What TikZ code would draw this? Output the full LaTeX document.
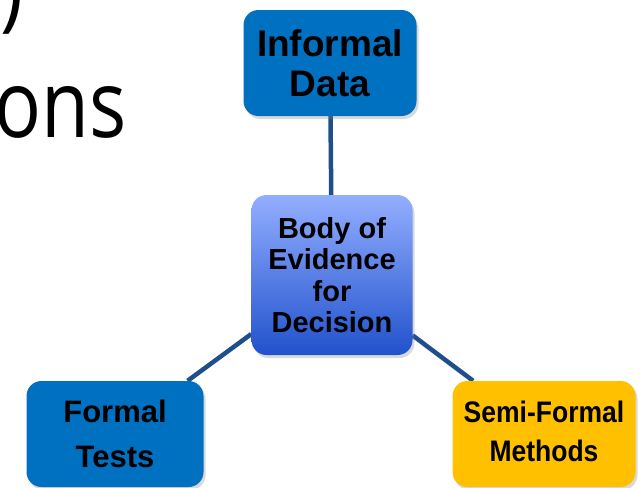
\documentclass[tikz,border=0pt]{standalone}
\usepackage{fontspec}
\setmainfont{Liberation Sans}
\newfontfamily\slidefont{Open Sans}
\usetikzlibrary{shadows,backgrounds}
\definecolor{boxblue}{HTML}{0070C0}
\definecolor{boxgold}{HTML}{FFC000}
\definecolor{linkblue}{HTML}{1F4E8C}
\definecolor{bodytop}{HTML}{93AEFF}
\definecolor{bodybottom}{HTML}{2152CC}

\begin{document}
\begin{tikzpicture}[x=1pt, y=-1pt,
  box/.style={rectangle, rounded corners=15pt, align=center, inner sep=0pt,
    drop shadow={opacity=0.3, shadow xshift=2pt, shadow yshift=-3pt}},
  link/.style={draw=linkblue, line width=4.5pt}]
  \clip (0,0) rectangle (641,488);

  % left-over slide title
  \node[anchor=base east, inner sep=0pt, font=\slidefont\fontsize{78}{78}\selectfont] (paren) at (24,19) {\scalebox{1}[1.2]{)}};
  \node[anchor=base east, inner sep=0pt, font=\slidefont\fontsize{78}{78}\selectfont] (ons) at (127,137) {\scalebox{1}[1.2]{ons}};

  \node[box, fill=boxblue, minimum width=173pt, minimum height=106pt,
    font=\bfseries\fontsize{37}{40}\selectfont] (informal) at (330,63) {Informal\\Data};
  \node[box, top color=bodytop, bottom color=bodybottom, minimum width=161pt, minimum height=160pt,
    font=\bfseries\fontsize{29}{31.5}\selectfont] (body) at (332,275) {Body of\\Evidence\\for\\Decision};
  \node[box, fill=boxblue, minimum width=177pt, minimum height=106pt,
    font=\bfseries\fontsize{31}{45}\selectfont] (formal) at (115,434) {Formal\\Tests};
  \node[box, fill=boxgold, minimum width=183pt, minimum height=106pt,
    font=\bfseries\fontsize{26.5}{34.5}\selectfont] (semi) at (544,434)
    {\scalebox{1}[1.12]{\begin{tabular}{@{}c@{}}Semi-Formal\\Methods\end{tabular}}};

  \begin{scope}[on background layer]
    \draw[link] (informal) -- (body);
    \draw[link] (body) -- (formal);
    \draw[link] (body) -- (semi);
  \end{scope}
\end{tikzpicture}
\end{document}
